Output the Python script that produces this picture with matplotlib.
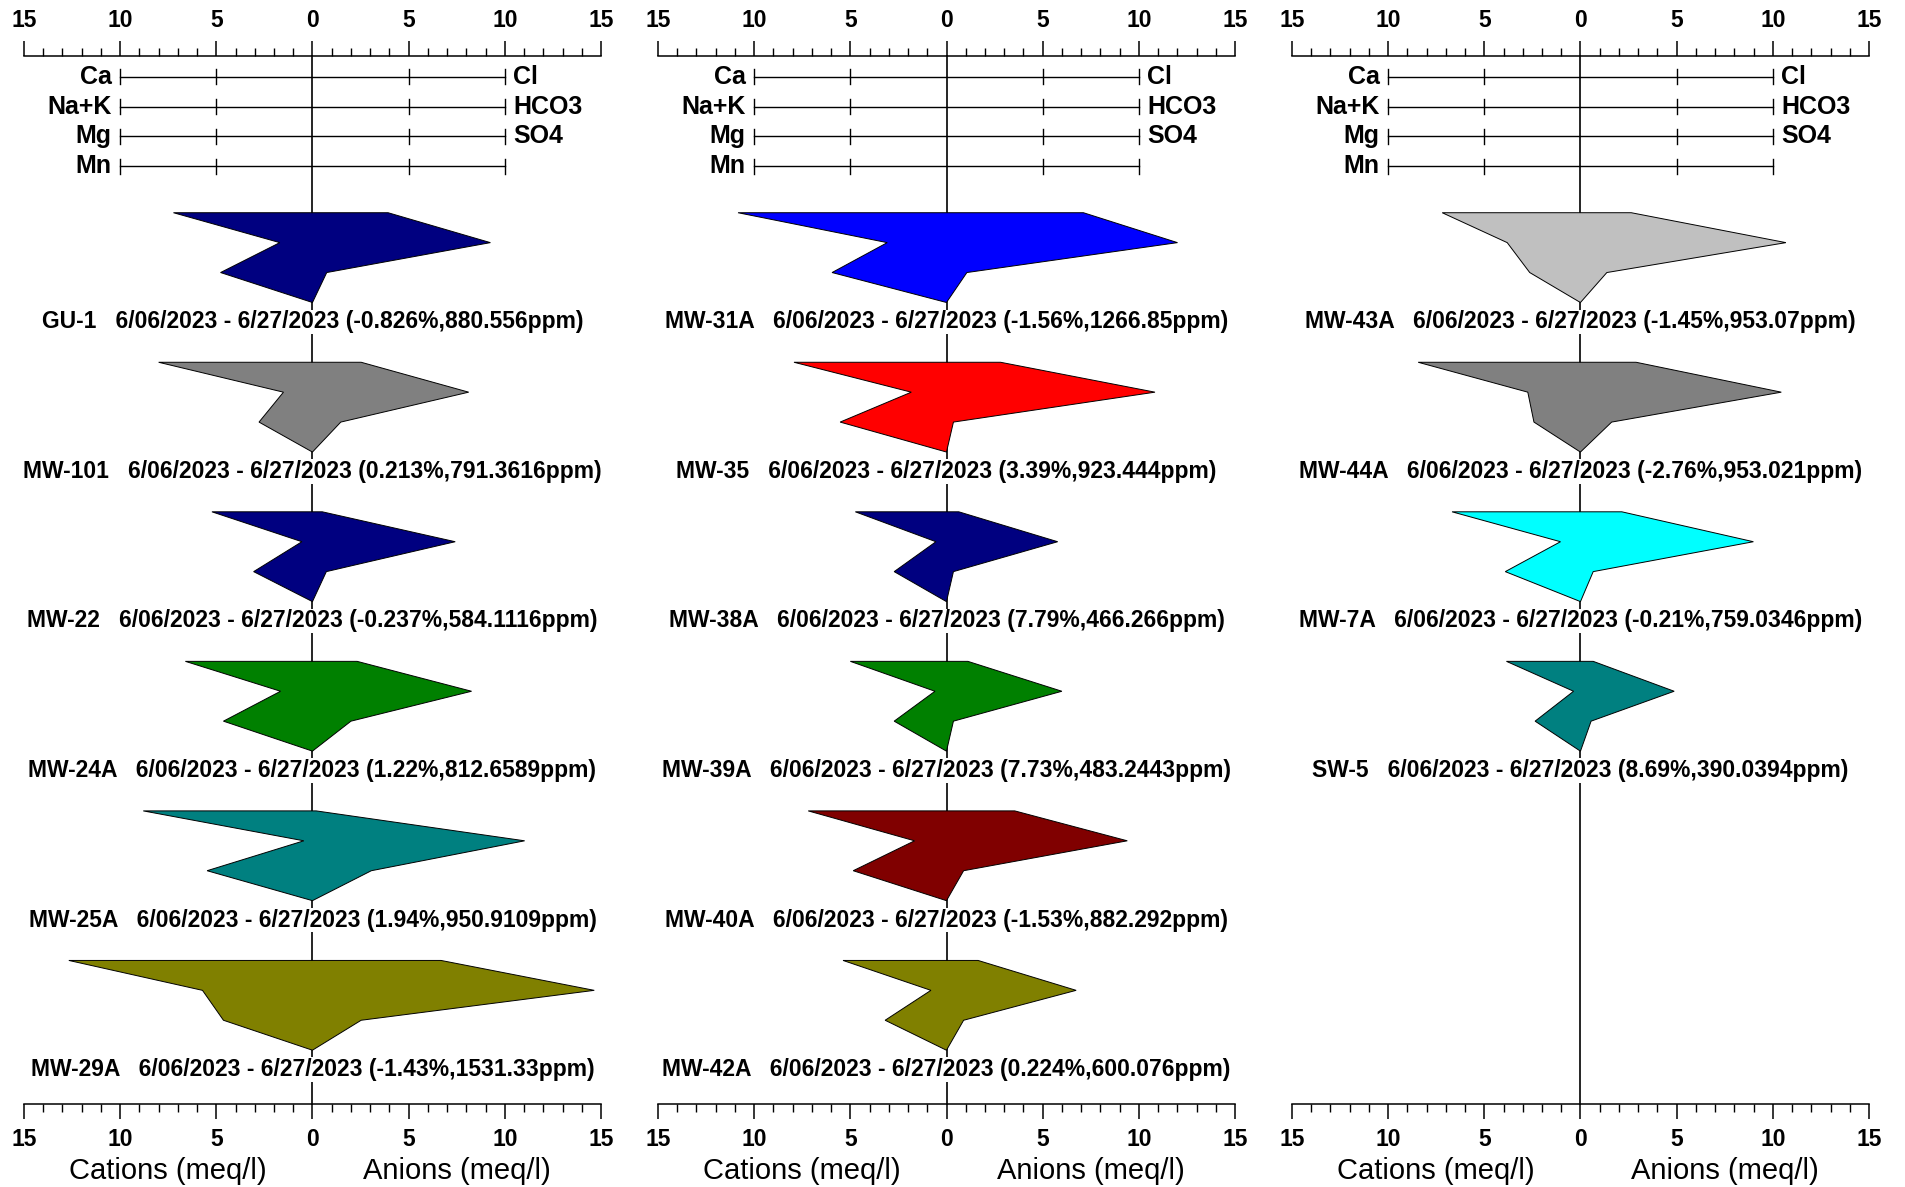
import matplotlib
matplotlib.use("Agg")
import matplotlib.pyplot as plt
from matplotlib.patches import Polygon
from matplotlib.ticker import MultipleLocator, FuncFormatter

plt.rcParams['font.family'] = ['Liberation Sans', 'DejaVu Sans']

# ---- sample data (meq/l) ----
names = ["GU-1", "MW-101", "MW-22", "MW-24A", "MW-25A", "MW-29A",
         "MW-31A", "MW-35", "MW-38A", "MW-39A", "MW-40A", "MW-42A",
         "MW-43A", "MW-44A", "MW-7A", "SW-5"]
column = [0, 0, 0, 0, 0, 0,
          1, 1, 1, 1, 1, 1,
          2, 2, 2, 2]
ca   = [7.23, 8.00, 5.23, 6.61, 8.80, 12.67, 10.84, 7.93, 4.74, 5.00, 7.19, 5.38, 7.19, 8.44, 6.68, 3.85]
nak  = [1.70, 1.51, 0.55, 1.66, 0.45, 5.72, 3.08, 1.83, 0.55, 0.60, 1.66, 0.81, 3.81, 2.74, 1.04, 0.36]
mg   = [4.78, 2.78, 3.06, 4.63, 5.48, 4.63, 5.95, 5.53, 2.72, 2.72, 4.85, 3.19, 2.64, 2.42, 3.91, 2.36]
mn   = [0.01, 0.01, 0.01, 0.01, 0.01, 0.01, 0.01, 0.01, 0.01, 0.01, 0.01, 0.01, 0.01, 0.01, 0.01, 0.01]
cl   = [3.93, 2.53, 0.51, 2.32, 0.19, 6.68, 7.12, 2.81, 0.64, 1.11, 3.55, 1.64, 2.64, 2.89, 2.15, 0.66]
hco3 = [9.25, 8.12, 7.42, 8.27, 11.03, 14.65, 12.01, 10.84, 5.78, 6.00, 9.40, 6.74, 10.68, 10.44, 8.99, 4.87]
so4  = [0.74, 1.47, 0.72, 2.00, 3.06, 2.53, 1.06, 0.36, 0.36, 0.36, 0.89, 0.89, 1.37, 1.62, 0.66, 0.55]
balance = ["-0.826%", "0.213%", "-0.237%", "1.22%", "1.94%", "-1.43%",
           "-1.56%", "3.39%", "7.79%", "7.73%", "-1.53%", "0.224%",
           "-1.45%", "-2.76%", "-0.21%", "8.69%"]
tds = ["880.556", "791.3616", "584.1116", "812.6589", "950.9109", "1531.33",
       "1266.85", "923.444", "466.266", "483.2443", "882.292", "600.076",
       "953.07", "953.021", "759.0346", "390.0394"]
colors = ["#000080", "#808080", "#000080", "#008000", "#008080", "#808000",
          "#0000FF", "#FF0000", "#000080", "#008000", "#800000", "#808000",
          "#C0C0C0", "#808080", "#00FFFF", "#008080"]
period = "6/06/2023 - 6/27/2023"

cations = ["Ca", "Na+K", "Mg", "Mn"]
anions = ["Cl", "HCO3", "SO4", ""]
tick_values = [-10, -5, 5, 10]

# ---- layout (vertical units = one ion row) ----
W, H = 1906, 1187
fig = plt.figure(figsize=(W / 100, H / 100), dpi=100)
fig.patch.set_facecolor("white")

panel_left_px = [24, 658, 1292]
panel_width_px = 577
top_px, bottom_px = 56, 1104
y_top, y_bottom = -0.69, 34.35
first_top, pitch, label_gap = 4.55, 5.0, 3.65

LBL_FONT = 16.5
HDR_FONT = 18

def stiff_axes(i):
    ax = fig.add_axes([panel_left_px[i] / W, 1 - bottom_px / H,
                       panel_width_px / W, (bottom_px - top_px) / H])
    ax.set_xlim(-15, 15)
    ax.set_ylim(y_bottom, y_top)
    for side in ("left", "right"):
        ax.spines[side].set_visible(False)
    for side in ("top", "bottom"):
        ax.spines[side].set_linewidth(1.1)
    ax.yaxis.set_visible(False)
    ax.xaxis.set_major_locator(MultipleLocator(5))
    ax.xaxis.set_minor_locator(MultipleLocator(1))
    ax.xaxis.set_major_formatter(FuncFormatter(lambda v, p: f"{abs(v):.0f}"))
    ax.tick_params(axis="x", which="both", top=True, bottom=True,
                   labeltop=True, labelbottom=True, direction="out")
    ax.tick_params(axis="x", which="major", length=10.5, width=1.1,
                   labelsize=16.5, pad=7)
    ax.tick_params(axis="x", which="minor", length=5.5, width=1.0)
    for lab in ax.get_xticklabels():
        lab.set_fontweight("bold")
    ax.patch.set_alpha(0)
    # centre line
    ax.plot([0, 0], [y_top, y_bottom], color="black", lw=1.2, zorder=1,
            clip_on=False)
    # ion scale rows
    for r, (cat, an) in enumerate(zip(cations, anions)):
        ax.plot([-10, 10], [r, r], color="black", lw=1.0, zorder=1)
        for t in tick_values:
            ax.plot([t, t], [r - 0.24, r + 0.24], color="black", lw=1.0, zorder=1)
        ax.text(-10.45, r, cat, ha="right", va="center", fontsize=HDR_FONT,
                fontweight="bold")
        if an:
            ax.text(10.45, r, an, ha="left", va="center", fontsize=HDR_FONT,
                    fontweight="bold")
    ax.text(-7.5, y_bottom + 2.25, "Cations (meq/l)", ha="center", va="center",
            fontsize=21, clip_on=False)
    ax.text(7.5, y_bottom + 2.25, "Anions (meq/l)", ha="center", va="center",
            fontsize=21, clip_on=False)
    return ax

axes = [stiff_axes(i) for i in range(3)]

slot = [0, 0, 0]
for k, name in enumerate(names):
    ax = axes[column[k]]
    top = first_top + pitch * slot[column[k]]
    slot[column[k]] += 1
    pts = [(-ca[k], top), (-nak[k], top + 1), (-mg[k], top + 2), (-mn[k], top + 3),
           (0, top + 3), (so4[k], top + 2), (hco3[k], top + 1), (cl[k], top)]
    ax.add_patch(Polygon(pts, closed=True, facecolor=colors[k],
                         edgecolor="black", lw=0.7, zorder=2))
    ax.text(0, top + label_gap,
            f"{name}   {period} ({balance[k]},{tds[k]}ppm)",
            ha="center", va="center", fontsize=LBL_FONT, fontweight="bold",
            zorder=3, bbox=dict(facecolor="white", edgecolor="none", pad=0.5))

fig.savefig("out.png", dpi=100, facecolor="white")
